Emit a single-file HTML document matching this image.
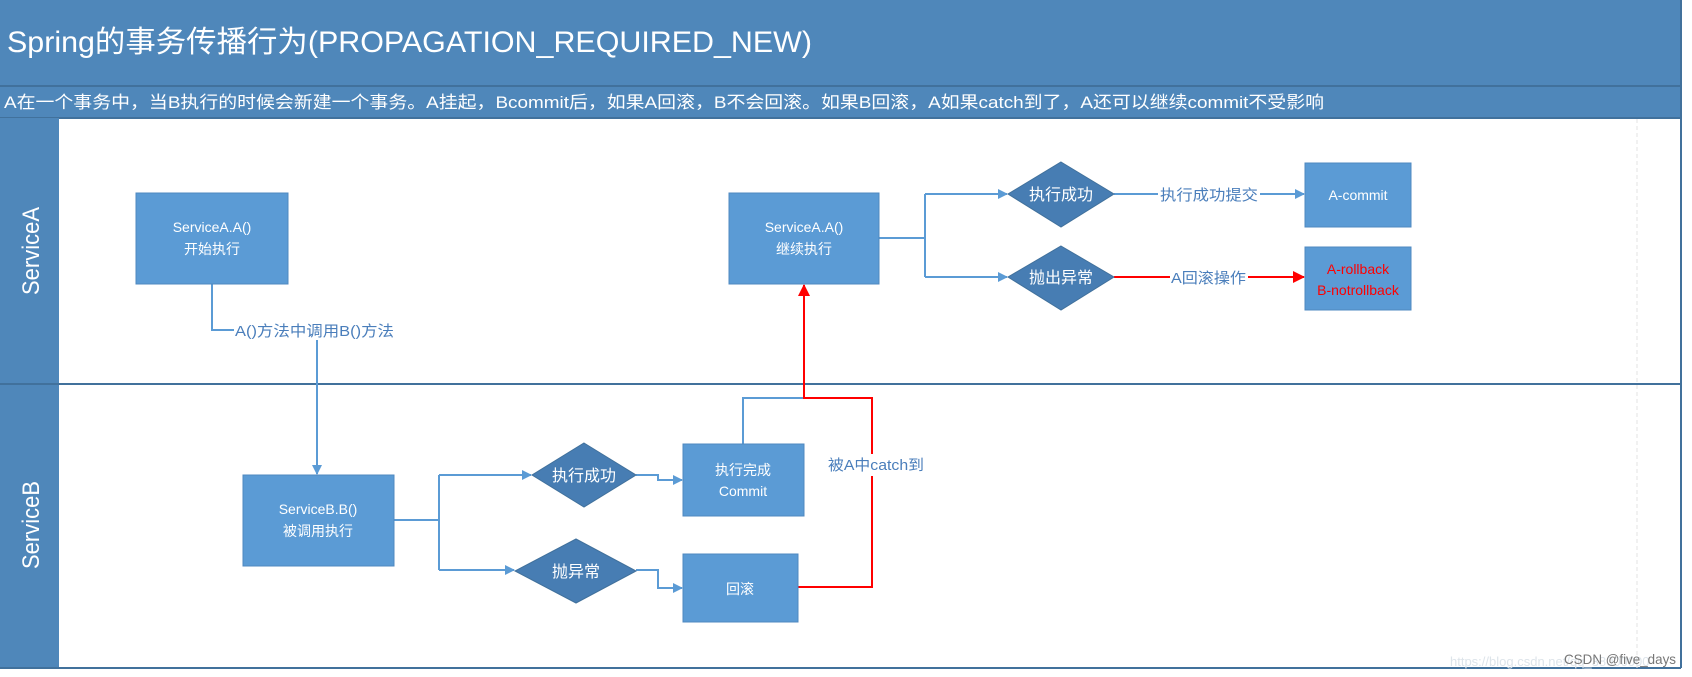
<!DOCTYPE html>
<html><head><meta charset="utf-8"><style>
html,body{margin:0;padding:0;background:#fff;}
svg{display:block;}
text{font-family:"Liberation Sans","Noto Sans CJK SC",sans-serif;}
</style></head><body>
<svg width="1692" height="677" viewBox="0 0 1692 677" xmlns="http://www.w3.org/2000/svg">
<defs>
<marker id="ab" markerWidth="10" markerHeight="10" refX="9" refY="5" orient="auto" markerUnits="userSpaceOnUse"><path d="M0,0 L10,5 L0,10 z" fill="#5b9bd5"/></marker>
<marker id="ar" markerWidth="12" markerHeight="12" refX="11" refY="6" orient="auto" markerUnits="userSpaceOnUse"><path d="M0,0 L12,6 L0,12 z" fill="#ff0000"/></marker>
</defs>
<!-- header -->
<rect x="0" y="0" width="1681" height="118" fill="#4f87ba"/>
<line x1="0" y1="86" x2="1681" y2="86" stroke="#41719c" stroke-width="2"/>
<line x1="0" y1="118" x2="1681" y2="118" stroke="#41719c" stroke-width="2"/>
<text x="7" y="52" font-size="30" fill="#fff" textLength="805" lengthAdjust="spacingAndGlyphs">Spring的事务传播行为(PROPAGATION_REQUIRED_NEW)</text>
<text x="4" y="108" font-size="17" fill="#fff" textLength="1320" lengthAdjust="spacingAndGlyphs">A在一个事务中，当B执行的时候会新建一个事务。A挂起，Bcommit后，如果A回滚，B不会回滚。如果B回滚，A如果catch到了，A还可以继续commit不受影响</text>
<!-- lanes -->
<rect x="0" y="118" width="59" height="550" fill="#4f87ba"/>
<rect x="59" y="119" width="1622" height="549" fill="#fff"/>
<line x1="0" y1="384" x2="1681" y2="384" stroke="#41719c" stroke-width="2"/>
<line x1="0" y1="668" x2="1681" y2="668" stroke="#41719c" stroke-width="2"/>
<line x1="1681" y1="0" x2="1681" y2="668" stroke="#41719c" stroke-width="2"/>
<line x1="1637" y1="119" x2="1637" y2="668" stroke="#e3e3e3" stroke-width="1" stroke-dasharray="4,3"/>
<text transform="translate(39,295) rotate(-90)" font-size="24" fill="#fff" textLength="88" lengthAdjust="spacingAndGlyphs">ServiceA</text>
<text transform="translate(39,569) rotate(-90)" font-size="24" fill="#fff" textLength="88" lengthAdjust="spacingAndGlyphs">ServiceB</text>
<!-- connectors blue -->
<g fill="none" stroke="#5b9bd5" stroke-width="2">
<polyline points="212,284 212,330 317,330 317,474" marker-end="url(#ab)"/>
<polyline points="879,238 925,238"/>
<polyline points="925,194 925,277"/>
<polyline points="925,194 1007,194" marker-end="url(#ab)"/>
<polyline points="925,277 1007,277" marker-end="url(#ab)"/>
<polyline points="1114,194 1304,194" marker-end="url(#ab)"/>
<polyline points="394,520 439,520"/>
<polyline points="439,475 439,570"/>
<polyline points="439,475 531,475" marker-end="url(#ab)"/>
<polyline points="439,570 514,570" marker-end="url(#ab)"/>
<polyline points="636,475 658,475 658,480 682,480" marker-end="url(#ab)"/>
<polyline points="636,570 658,570 658,588 682,588" marker-end="url(#ab)"/>
<polyline points="743,444 743,398 804,398"/>
</g>
<g fill="none" stroke="#ff0000" stroke-width="2">
<polyline points="1114,277 1304,277" marker-end="url(#ar)"/>
<polyline points="798,587 872,587 872,398 804,398 804,285" marker-end="url(#ar)"/>
</g>
<!-- connector labels -->
<rect x="234" y="320" width="162" height="20" fill="#fff"/>
<text x="235" y="336" font-size="15" fill="#4a7ebb" textLength="159" lengthAdjust="spacingAndGlyphs">A()方法中调用B()方法</text>
<rect x="1158" y="184" width="102" height="20" fill="#fff"/>
<text x="1160" y="200" font-size="15" fill="#4a7ebb" textLength="98" lengthAdjust="spacingAndGlyphs">执行成功提交</text>
<rect x="1170" y="267" width="78" height="20" fill="#fff"/>
<text x="1171" y="283" font-size="15" fill="#4a7ebb" textLength="75" lengthAdjust="spacingAndGlyphs">A回滚操作</text>
<rect x="826" y="454" width="100" height="22" fill="#fff"/>
<text x="828" y="470" font-size="15" fill="#4a7ebb" textLength="96" lengthAdjust="spacingAndGlyphs">被A中catch到</text>
<!-- boxes -->
<g fill="#5b9bd5" stroke="#4f88c0" stroke-width="1">
<rect x="136" y="193" width="152" height="91"/>
<rect x="729" y="193" width="150" height="91"/>
<rect x="1305" y="163" width="106" height="64"/>
<rect x="1305" y="247" width="106" height="63"/>
<rect x="243" y="475" width="151" height="91"/>
<rect x="683" y="444" width="121" height="72"/>
<rect x="683" y="554" width="115" height="68"/>
</g>
<g fill="#477db3" stroke="#41719c" stroke-width="1">
<polygon points="1061,162 1114,194 1061,227 1008,194"/>
<polygon points="1061,246 1114,277 1061,310 1008,277"/>
<polygon points="584,443 636,475 584,507 532,475"/>
<polygon points="576,539 636,571 576,603 515,571"/>
</g>
<!-- box texts -->
<g fill="#fff" font-size="14" text-anchor="middle">
<text x="212" y="232">ServiceA.A()</text>
<text x="212" y="254">开始执行</text>
<text x="804" y="232">ServiceA.A()</text>
<text x="804" y="254">继续执行</text>
<text x="1358" y="200">A-commit</text>
<text x="318" y="514">ServiceB.B()</text>
<text x="318" y="536">被调用执行</text>
<text x="743" y="475">执行完成</text>
<text x="743" y="496">Commit</text>
<text x="740" y="594">回滚</text>
<text x="1061" y="200" font-size="16">执行成功</text>
<text x="1061" y="283" font-size="16">抛出异常</text>
<text x="584" y="481" font-size="16">执行成功</text>
<text x="576" y="577" font-size="16">抛异常</text>
</g>
<g fill="#ff0000" font-size="14" text-anchor="middle">
<text x="1358" y="274">A-rollback</text>
<text x="1358" y="295">B-notrollback</text>
</g>
<text x="1450" y="666" font-size="13" fill="#dde4ea">https://blog.csdn.net/qq_38000000</text>
<text x="1564" y="664" font-size="14" fill="#777" textLength="112" lengthAdjust="spacingAndGlyphs">CSDN @five_days</text>
</svg>
</body></html>
